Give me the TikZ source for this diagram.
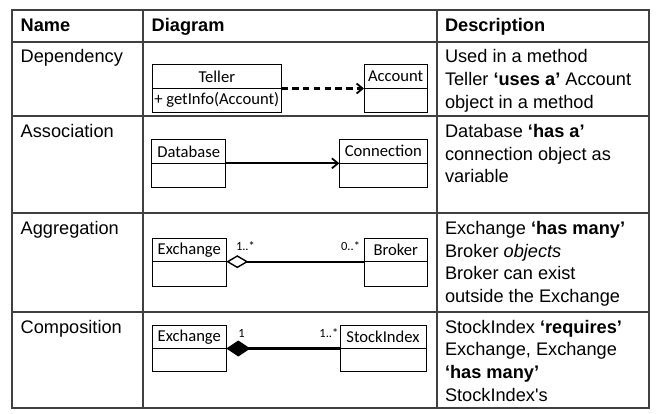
\documentclass[tikz,border=0pt]{standalone}
\usepackage{fontspec}
\setmainfont{Liberation Sans}
\newfontfamily\plainsans{Liberation Sans}[Ligatures=TeXOff]
\newfontfamily\boxfont{Carlito}
\usetikzlibrary{arrows.meta}
\begin{document}
\begin{tikzpicture}[x=1pt,y=-1pt,
  grid/.style={draw=black!75, line width=1.1pt},
  txt/.style={anchor=base west, inner sep=0pt, outer sep=0pt, font=\fontsize{18.2}{22.7}\selectfont},
  hdr/.style={anchor=base west, inner sep=0pt, outer sep=0pt, font=\fontsize{18.2}{22.7}\selectfont\bfseries},
  cls/.style={draw=black, line width=0.9pt, anchor=north west, inner sep=0pt, outer sep=0pt, font=\boxfont\fontsize{16.6}{18}\selectfont},
  mult/.style={inner sep=0pt, outer sep=0pt, font=\boxfont\fontsize{12.5}{13}\selectfont},
  link/.style={draw=black, line width=2.2pt},
  barb/.style={-{Straight Barb[length=6pt,width=10pt,line width=1.8pt]}}
]
\useasboundingbox (0,0) rectangle (656,414);
\fill[white] (0,0) rectangle (656,414);

% table grid
\draw[grid] (12,10) rectangle (649,408);
\foreach \yy in {42,116,213,312} \draw[grid] (12,\yy) -- (649,\yy);
\draw[grid] (143,10) -- (143,408);
\draw[grid] (437,10) -- (437,408);

% headers
\node[hdr] (hname) at (20.7,32) {Name};
\node[hdr] (hdiag) at (151.7,32) {Diagram};
\node[hdr] (hdesc) at (445,32) {Description};

% names
\node[txt] (ndep) at (20.7,63) {Dependency};
\node[txt] (nass) at (20.7,137.5) {Association};
\node[txt] (nagg) at (20.7,234.5) {Aggregation};
\node[txt] (ncom) at (20.7,333) {Composition};

% descriptions
\node[txt] (ddep1) at (445,63) {Used in a method};
\node[txt] (ddep2) at (445,85.7) {Teller \textbf{‘uses a’} Account};
\node[txt] (ddep3) at (445,108.4) {object in a method};
\node[txt] (dass1) at (445,137.5) {Database \textbf{‘has a’}};
\node[txt] (dass2) at (445,160.2) {connection object as};
\node[txt] (dass3) at (445,182.9) {variable};
\node[txt] (dagg1) at (445,234.5) {Exchange \textbf{‘has many’}};
\node[txt] (dagg2) at (445,257.2) {Broker \textit{objects}};
\node[txt] (dagg3) at (445,279.9) {Broker can exist};
\node[txt] (dagg4) at (445,302.6) {outside the Exchange};
\node[txt] (dcom1) at (445,333) {StockIndex \textbf{‘requires’}};
\node[txt] (dcom2) at (445,355.7) {Exchange, Exchange};
\node[txt] (dcom3) at (445,378.4) {\textbf{‘has many’}};
\node[txt] (dcom4) at (445,401.1) {\plainsans StockIndex's};

% Dependency
\node[cls, minimum width=129pt, minimum height=24.2pt] (teller) at (152.3,64.3) {Teller};
\node[cls, minimum width=129pt, minimum height=23.5pt] (tellerb) at (teller.south west) {+ getInfo(Account)};
\node[cls, minimum width=63.3pt, minimum height=24.2pt] (account) at (364,64.3) {Account};
\node[cls, minimum width=63.3pt, minimum height=23.5pt] (accountb) at (account.south west) {};
\draw[link, barb, dash pattern=on 6.5pt off 4.3pt] (teller.south east) -- (account.south west);

% Association
\node[cls, minimum width=74pt, minimum height=24pt] (db) at (151.7,139.3) {Database};
\node[cls, minimum width=74pt, minimum height=24pt] (dbb) at (db.south west) {};
\node[cls, minimum width=88pt, minimum height=24pt] (conn) at (339.3,139.3) {Connection};
\node[cls, minimum width=88pt, minimum height=24pt] (connb) at (conn.south west) {};
\draw[link, barb] (db.south east) -- (conn.south west);

% Aggregation
\node[cls, minimum width=74pt, minimum height=23.4pt] (exa) at (152.3,238.3) {Exchange};
\node[cls, minimum width=74pt, minimum height=24.3pt] (exab) at (exa.south west) {};
\node[cls, minimum width=63pt, minimum height=23.4pt] (broker) at (364.3,238.3) {Broker};
\node[cls, minimum width=63pt, minimum height=24.3pt] (brokerb) at (broker.south west) {};
\draw[link, {Diamond[open, fill=white, length=22pt, width=13pt, line width=1.4pt]}-] (exa.south east) -- (broker.south west);
\node[mult, anchor=base west] (m1) at (236,250.7) {1..*};
\node[mult, anchor=base east] (m2) at (360,250.7) {0..*};

% Composition
\node[cls, minimum width=74pt, minimum height=23.5pt] (exc) at (152.3,325) {Exchange};
\node[cls, minimum width=74pt, minimum height=23.2pt] (excb) at (exc.south west) {};
\node[cls, minimum width=86pt, minimum height=23.5pt] (stock) at (340,325) {StockIndex};
\node[cls, minimum width=86pt, minimum height=23.2pt] (stockb) at (stock.south west) {};
\draw[link, {Diamond[length=24pt, width=16pt]}-] (exc.south east) -- (stock.south west);
\node[mult, anchor=base west] (m3) at (238.3,337.3) {1};
\node[mult, anchor=base east] (m4) at (338.3,337.3) {1..*};
\end{tikzpicture}
\end{document}
